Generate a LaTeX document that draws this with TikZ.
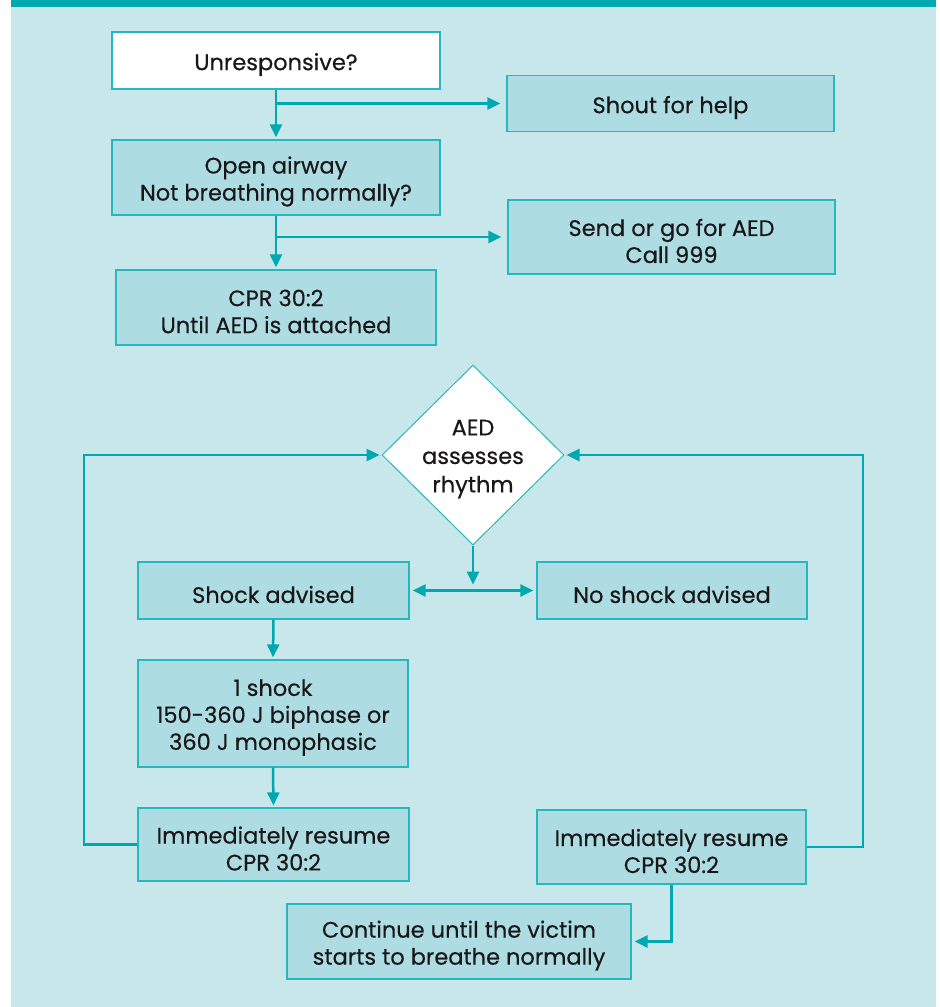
\documentclass[tikz,border=0pt]{standalone}
\usepackage{fontspec}
\setmainfont{Poppins}[FakeBold=0.35]
\usetikzlibrary{arrows.meta,shapes.geometric}
\definecolor{bg}{HTML}{C8E7EB}
\definecolor{bar}{HTML}{00A9B0}
\definecolor{boxfill}{HTML}{ADDDE3}
\definecolor{boxline}{HTML}{26B8BE}
\definecolor{txt}{HTML}{1A1718}
\begin{document}
\begin{tikzpicture}[x=1pt,y=-1pt,
  box/.style={draw=boxline, line width=1.2pt, fill=boxfill, inner sep=0pt},
  tx/.style={align=center, text=txt, font=\fontsize{22.5}{27}\selectfont, inner sep=0pt, yshift=-4pt},
  arr/.style={draw=bar, line width=2.5pt, -{Triangle[length=13pt,width=12pt]}, shorten >=2pt},
  arrr/.style={draw=bar, line width=2.5pt, {Triangle[length=13pt,width=12pt]}-{Triangle[length=13pt,width=12pt]}, shorten >=3pt, shorten <=3pt}]
\useasboundingbox (0,0) rectangle (940,1007);
\fill[bg] (11,0) rectangle (936,1007);
\fill[bar] (11,0) rectangle (936,7);

\node[box, fill=white, minimum width=328pt, minimum height=57pt, label={[tx]center:Unresponsive?}] (u) at (276,60.5) {};
\node[box, minimum width=327pt, minimum height=56pt, label={[tx]center:Shout for help}] (shout) at (670.5,103.5) {};
\node[box, minimum width=328pt, minimum height=75pt, label={[tx]center:{Open airway\\Not breathing normally?}}] (o) at (276,177.5) {};
\node[box, minimum width=327pt, minimum height=74pt, label={[tx]center:{Send or go for AED\\Call 999}}] (send) at (671.5,237) {};
\node[box, minimum width=320pt, minimum height=75pt, label={[tx]center:{CPR 30:2\\Until AED is attached}}] (cpr) at (276,307.5) {};
\node[box, shape=diamond, fill=white, line width=1pt, minimum width=182pt, minimum height=180pt,
  label={[tx, font=\fontsize{22.5}{28.5}\selectfont]center:{AED\\assesses\\rhythm}}] (d) at (473,455) {};
\node[box, minimum width=271pt, minimum height=57pt, label={[tx]center:Shock advised}] (sa) at (273.5,590.5) {};
\node[box, minimum width=270pt, minimum height=57pt, label={[tx]center:No shock advised}] (nsa) at (672,590.5) {};
\node[box, minimum width=270pt, minimum height=107pt, label={[tx]center:{1 shock\\150-360 J biphase or\\360 J monophasic}}] (one) at (273,713.5) {};
\node[box, minimum width=271pt, minimum height=73pt, label={[tx]center:{Immediately resume\\CPR 30:2}}] (iml) at (273.5,844.5) {};
\node[box, minimum width=269pt, minimum height=74pt, label={[tx]center:{Immediately resume\\CPR 30:2}}] (imr) at (671.5,847) {};
\node[box, minimum width=344pt, minimum height=75pt, label={[tx]center:{Continue until the victim\\starts to breathe normally}}] (cont) at (459,941.5) {};

\coordinate (lx) at (84,0);
\coordinate (rx) at (863,0);

\draw[arr] (u.south) -- (o.north);
\draw[arr, shorten >=6pt] (shout.west -| u.south) -- (shout.west);
\draw[arr] (o.south) -- (cpr.north);
\draw[arr, shorten >=6pt] (send.west -| o.south) -- (send.west);
\draw[arr, shorten >=6pt] (d.south) -- (d.south |- sa.east);
\draw[arrr] (sa.east) -- (nsa.west);
\draw[arr] (sa.south) -- (one.north);
\draw[arr] (one.south) -- (iml.north);
\draw[arr] (iml.west) -- (iml.west -| lx) |- (d.west);
\draw[arr] (imr.east) -- (imr.east -| rx) |- (d.east);
\draw[arr, shorten >=3pt] (imr.south) |- (cont.east);
\end{tikzpicture}
\end{document}
